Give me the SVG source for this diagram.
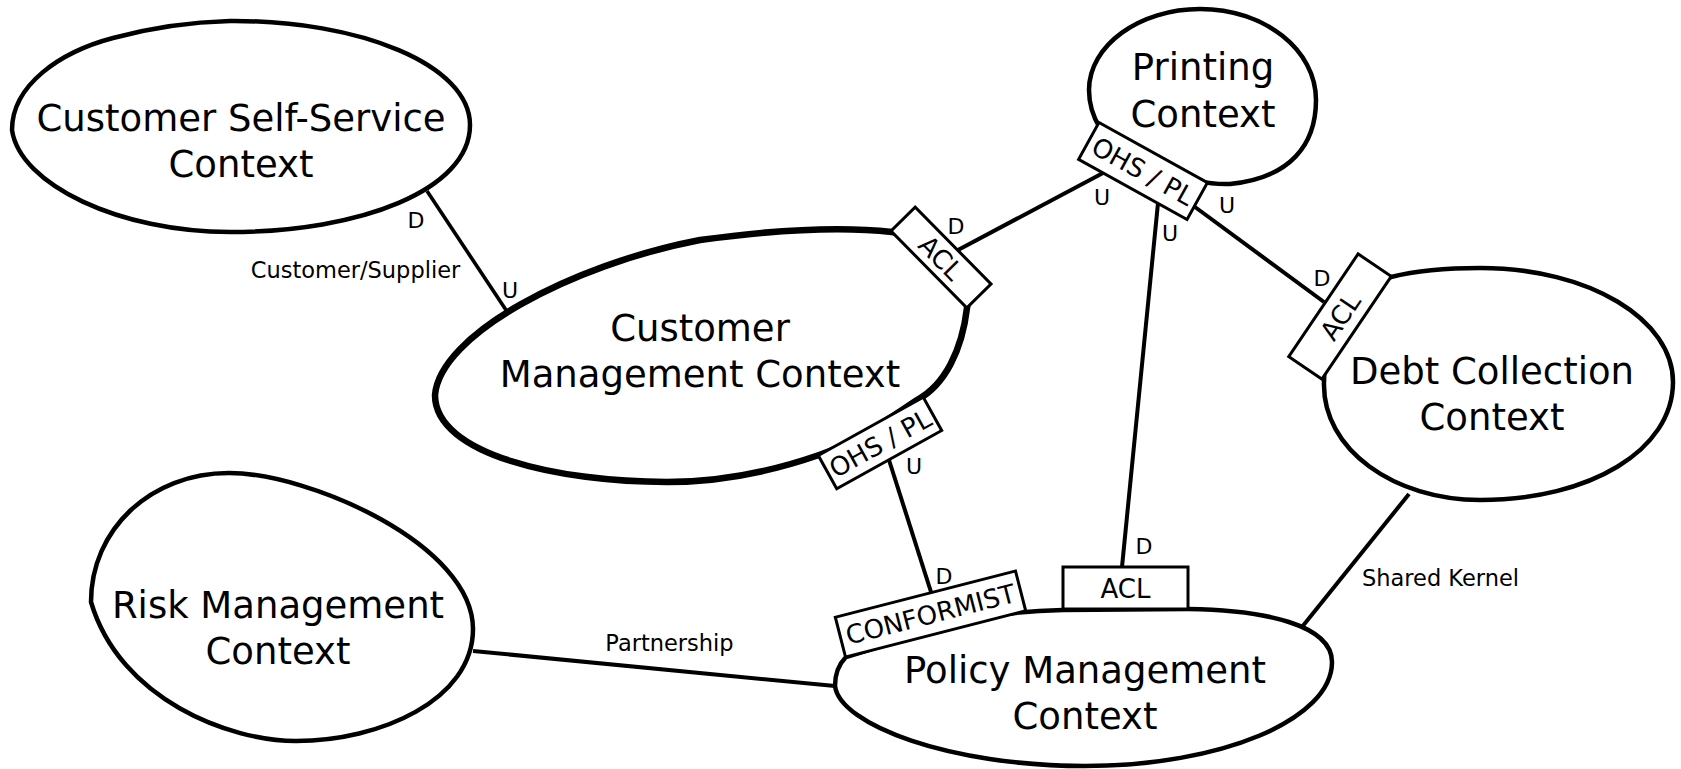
<svg xmlns="http://www.w3.org/2000/svg" width="1681" height="769" viewBox="0 0 1681 769">
<style>
.ctx{fill:#fff;stroke:#000;stroke-width:4.5;stroke-linejoin:round}
.ctx.core{stroke-width:6.5}
.nt{font-family:"DejaVu Sans","Liberation Sans",sans-serif;font-size:37px;text-anchor:middle;fill:#000}
.ln{stroke:#000;stroke-width:4;fill:none}
.box{fill:#fff;stroke:#000;stroke-width:3}
.bt{font-family:"DejaVu Sans","Liberation Sans",sans-serif;font-size:26px;text-anchor:middle;fill:#000}
.ud{font-family:"DejaVu Sans","Liberation Sans",sans-serif;font-size:22px;text-anchor:middle;fill:#000}
.rl{font-family:"DejaVu Sans","Liberation Sans",sans-serif;font-size:22.5px;text-anchor:middle;fill:#000}
</style>
<rect width="1681" height="769" fill="#fff"/>
<g id="customer-self-service">
<path class="ctx" d="M12,130 C12,85 60,52 113,38 C150,28 190,22 230,21 C360,20 470,65 470,125 C470,190 360,232 230,232 C120,232 20,185 12,130 Z"/>
<text class="nt" x="241" y="131">Customer Self-Service</text>
<text class="nt" x="241" y="177">Context</text>
</g>
<g id="customer-management">
<path class="ctx core" d="M435,395 C440,335 570,265 700,240 C780,229 840,226 892,232 C940,240 975,270 967,308 C962,350 945,385 917,400 C880,425 850,445 819,455 C770,472 720,482 667,482 C560,482 435,455 435,395 Z"/>
<text class="nt" x="700" y="341">Customer</text>
<text class="nt" x="700" y="387">Management Context</text>
</g>
<g id="printing">
<path class="ctx" d="M1089,90 C1089,45 1140,9 1200,9 C1265,9 1316,50 1316,100 C1316,145 1290,178 1230,184 C1190,186 1120,160 1100,128 C1092,115 1089,103 1089,90 Z"/>
<text class="nt" x="1203" y="80">Printing</text>
<text class="nt" x="1203" y="127">Context</text>
</g>
<g id="debt-collection">
<path class="ctx" d="M1324,382 C1322,450 1395,500 1480,500 C1590,500 1673,450 1673,382 C1673,320 1590,268 1480,268 C1445,268 1415,271 1391,277 C1350,300 1324,340 1324,382 Z"/>
<text class="nt" x="1492" y="384">Debt Collection</text>
<text class="nt" x="1492" y="430">Context</text>
</g>
<g id="risk-management">
<path class="ctx" d="M229,473 C310,473 473,545 473,629 C473,700 380,741 296,741 C230,741 120,700 91,602 C91,530 150,473 229,473 Z"/>
<text class="nt" x="278" y="618">Risk Management</text>
<text class="nt" x="278" y="664">Context</text>
</g>
<g id="policy-management">
<path class="ctx" d="M835,686 C840,725 950,766 1085,766 C1220,766 1332,720 1332,662 C1332,625 1265,610 1188,609 L1063,610 C1020,611 990,615 960,622 L846,657 C838,665 835,675 835,686 Z"/>
<text class="nt" x="1085" y="683">Policy Management</text>
<text class="nt" x="1085" y="729">Context</text>
</g>
<g id="connectors">
<line class="ln" x1="427" y1="191" x2="508" y2="313" style="stroke-width:3.6"/>
<line class="ln" x1="1103" y1="173" x2="958" y2="250"/>
<line class="ln" x1="1158" y1="203" x2="1122" y2="567"/>
<line class="ln" x1="1195" y1="207" x2="1324" y2="302"/>
<line class="ln" x1="889" y1="460" x2="931" y2="592"/>
<line class="ln" x1="473" y1="651" x2="835" y2="686"/>
<line class="ln" x1="1409" y1="494" x2="1302" y2="627"/>
<g transform="translate(941,257.5) rotate(45.4)"><rect class="box" x="-54" y="-17" width="108" height="34"/><text class="bt" y="9.5">ACL</text></g>
<g transform="translate(1143,171) rotate(29)"><rect class="box" x="-62" y="-21" width="124" height="42"/><text class="bt" y="9.5">OHS / PL</text></g>
<g transform="translate(1340,316.5) rotate(-56)"><rect class="box" x="-62" y="-20" width="124" height="40"/><text class="bt" y="9.5">ACL</text></g>
<g transform="translate(880,443) rotate(-29)"><rect class="box" x="-60" y="-19" width="120" height="38"/><text class="bt" y="9.5">OHS / PL</text></g>
<g transform="translate(930.5,614) rotate(-14.4)"><rect class="box" x="-93" y="-20.5" width="186" height="41"/><text class="bt" y="9.5">CONFORMIST</text></g>
<g transform="translate(1125.5,588)"><rect class="box" x="-62.5" y="-21" width="125" height="42"/><text class="bt" y="9.5">ACL</text></g>
<text class="ud" x="416" y="228">D</text>
<text class="ud" x="510" y="298">U</text>
<text class="ud" x="956" y="234">D</text>
<text class="ud" x="1102" y="205">U</text>
<text class="ud" x="1170" y="241">U</text>
<text class="ud" x="1144" y="554">D</text>
<text class="ud" x="1227" y="213">U</text>
<text class="ud" x="1322" y="286">D</text>
<text class="ud" x="914" y="474">U</text>
<text class="ud" x="944" y="584">D</text>
<text class="rl" x="355.5" y="278">Customer/Supplier</text>
<text class="rl" x="669.5" y="651">Partnership</text>
<text class="rl" x="1440.5" y="586">Shared Kernel</text>
</g>
</svg>
